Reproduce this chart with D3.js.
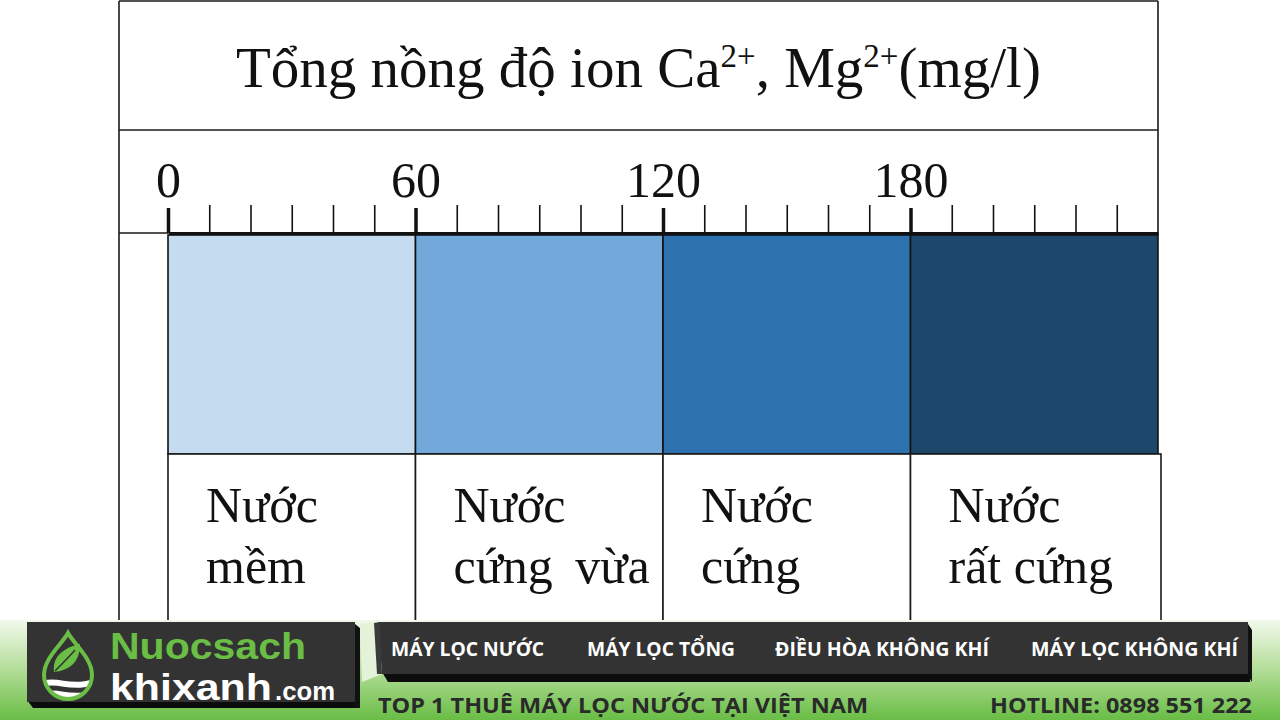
<!DOCTYPE html>
<html><head><meta charset="utf-8">
<script src="https://cdn.jsdelivr.net/npm/d3@7/dist/d3.min.js"></script>
<style>html,body{margin:0;padding:0;background:#fff;}svg{display:block;}</style>
</head><body>
<script>
// ---- data ----
const categoryLine1 = ["Nước", "Nước", "Nước", "Nước"];
const categoryLine2 = ["mềm", "cứng vừa", "cứng", "rất cứng"];
const rangeStart = [0, 60, 120, 180];
const rangeEnd = [60, 120, 180, 240];
const majorTicks = [0, 60, 120, 180];
const minorTicks = [10, 20, 30, 40, 50, 70, 80, 90, 100, 110, 130, 140, 150, 160, 170, 190, 200, 210, 220, 230];
const barColors = ["#c5dbf0", "#72a8da", "#2e71af", "#1e476c"];
const menuItems = ["MÁY LỌC NƯỚC", "MÁY LỌC TỔNG", "ĐIỀU HÒA KHÔNG KHÍ", "MÁY LỌC KHÔNG KHÍ"];

const W = 1280, H = 720;
const svg = d3.select("body").append("svg").attr("width", W).attr("height", H);
const serif = "'Liberation Serif','Times New Roman',serif";

const x = d3.scaleLinear().domain([0, 240]).range([168, 1158]);
const axisY = 233, barTop = 235, barBottom = 454, cellBottom = 622;
const frameL = 119, frameR = 1158, frameT = 1, titleB = 130;

// frame
const g = svg.append("g").attr("stroke", "#1a1a1a").attr("fill", "none");
g.append("line").attr("x1", frameL).attr("x2", frameL).attr("y1", frameT).attr("y2", cellBottom).attr("stroke-width", 1.6);
g.append("line").attr("x1", frameL).attr("x2", frameR).attr("y1", frameT).attr("y2", frameT).attr("stroke-width", 1.6);
g.append("line").attr("x1", frameR).attr("x2", frameR).attr("y1", frameT).attr("y2", barTop).attr("stroke-width", 1.6);
g.append("line").attr("x1", frameL).attr("x2", frameR).attr("y1", titleB).attr("y2", titleB).attr("stroke-width", 1.6);
g.append("line").attr("x1", frameL).attr("x2", x(0)).attr("y1", axisY).attr("y2", axisY).attr("stroke-width", 1.5);

// title
const title = svg.append("text").attr("x", (frameL + frameR) / 2).attr("y", 87)
  .attr("text-anchor", "middle").attr("font-family", serif).attr("font-size", 57).attr("fill", "#111");
title.append("tspan").text("Tổng nồng độ ion Ca");
title.append("tspan").attr("font-size", 33).attr("dy", -20).text("2+");
title.append("tspan").attr("dy", 20).text(", Mg");
title.append("tspan").attr("font-size", 33).attr("dy", -20).text("2+");
title.append("tspan").attr("dy", 20).text("(mg/l)");

// bars
svg.append("g").selectAll("rect").data(rangeStart).join("rect")
  .attr("x", (d) => x(d))
  .attr("width", (d, i) => x(rangeEnd[i]) - x(d))
  .attr("y", barTop).attr("height", barBottom - barTop)
  .attr("fill", (d, i) => barColors[i])
  .attr("stroke", "#111").attr("stroke-width", 1.6);

// label cells
const cells = svg.append("g").selectAll("g").data(rangeStart).join("g");
cells.append("rect")
  .attr("x", (d) => x(d))
  .attr("width", (d, i) => x(rangeEnd[i]) - x(d) + (i === 3 ? 3 : 0))
  .attr("y", barBottom).attr("height", cellBottom - barBottom)
  .attr("fill", "#fff").attr("stroke", "#1a1a1a").attr("stroke-width", 1.6);
cells.append("text").attr("x", (d) => x(d) + 38).attr("y", 522)
  .attr("font-family", serif).attr("font-size", 50).attr("fill", "#111")
  .text((d, i) => categoryLine1[i]);
cells.append("text").attr("x", (d) => x(d) + 38).attr("y", 583)
  .attr("font-family", serif).attr("font-size", 50).attr("fill", "#111")
  .attr("word-spacing", (d, i) => i === 1 ? 10 : 0)
  .text((d, i) => categoryLine2[i]);

// axes
const minorAxis = d3.axisTop(x).tickValues(minorTicks).tickSize(28).tickSizeOuter(0).tickFormat("");
const gMinor = svg.append("g").attr("transform", `translate(0,${axisY})`).call(minorAxis);
gMinor.select(".domain").remove();
gMinor.selectAll(".tick line").attr("stroke", "#111").attr("stroke-width", 1.6);

const majorAxis = d3.axisTop(x).tickValues(majorTicks).tickSize(25).tickPadding(11).tickSizeOuter(0);
const gMajor = svg.append("g").attr("transform", `translate(0,${axisY})`).call(majorAxis);
gMajor.select(".domain").attr("stroke", "#111").attr("stroke-width", 3.2);
gMajor.selectAll(".tick line").attr("stroke", "#111").attr("stroke-width", 3.5);
gMajor.selectAll(".tick text").attr("font-family", serif).attr("font-size", 50).attr("fill", "#111");

// ---- bottom banner ----
const defs = svg.append("defs");
const grad = defs.append("linearGradient").attr("id", "bg").attr("x1", 0).attr("x2", 0).attr("y1", 0).attr("y2", 1);
grad.append("stop").attr("offset", 0).attr("stop-color", "#f2f9ec");
grad.append("stop").attr("offset", 0.45).attr("stop-color", "#b9e0a0");
grad.append("stop").attr("offset", 1).attr("stop-color", "#69bd45");
svg.append("rect").attr("x", 0).attr("y", 620).attr("width", W).attr("height", 100).attr("fill", "url(#bg)");

// logo box
svg.append("path").attr("d", "M27,700 L355,700 L355,708 L33,708 Z").attr("fill", "#0c0c0c");
svg.append("path").attr("d", "M355,624 L360,628 L360,708 L355,708 Z").attr("fill", "#111");
svg.append("rect").attr("x", 27).attr("y", 622).attr("width", 328).attr("height", 80).attr("fill", "#333333");

// drop icon
const dropD = "M68,633 C62,644 44,658 44,675 A24,24 0 0 0 92,675 C92,658 74,644 68,633 Z";
defs.append("clipPath").attr("id", "dropclip").append("path").attr("d", dropD);
const icon = svg.append("g");
icon.append("path").attr("d", dropD).attr("fill", "#333");
const ic = icon.append("g").attr("clip-path", "url(#dropclip)");
ic.append("path").attr("d", "M40,680 C55,672 72,686 96,676 L96,704 L40,704 Z").attr("fill", "#fff");
ic.append("path").attr("d", "M40,677 C55,669 72,683 96,673 L96,678 C72,688 55,674 40,682 Z").attr("fill", "#333");
ic.append("path").attr("d", "M40,688 C55,680 72,694 96,684 L96,689 C72,699 55,685 40,693 Z").attr("fill", "#333");
icon.append("path").attr("d", "M54,672 C52,658 62,648 80,644 C80,660 72,670 54,672 Z").attr("fill", "#6abd45");
icon.append("path").attr("d", "M55,671 C62,664 68,658 75,650").attr("stroke", "#333").attr("stroke-width", 1.5).attr("fill", "none");
icon.append("path").attr("d", dropD).attr("fill", "none").attr("stroke", "#6abd45").attr("stroke-width", 4);

const sans = "'Liberation Sans','Open Sans',sans-serif";
svg.append("text").attr("x", 110).attr("y", 659).attr("font-family", sans).attr("font-weight", 700)
  .attr("font-size", 36).attr("fill", "#6abd45").attr("textLength", 196).attr("lengthAdjust", "spacingAndGlyphs").text("Nuocsach");
svg.append("text").attr("x", 110).attr("y", 700).attr("font-family", sans).attr("font-weight", 700)
  .attr("font-size", 36).attr("fill", "#fff").attr("textLength", 162).attr("lengthAdjust", "spacingAndGlyphs").text("khixanh");
svg.append("text").attr("x", 275).attr("y", 700).attr("font-family", sans).attr("font-weight", 700)
  .attr("font-size", 26).attr("fill", "#fff").attr("textLength", 60).attr("lengthAdjust", "spacingAndGlyphs").text(".com");

// menu bar
svg.append("path").attr("d", "M382,672 L1250,672 L1250,682 L388,682 Z").attr("fill", "#0d0d0d");
svg.append("path").attr("d", "M1248,624 L1252,630 L1252,682 L1248,676 Z").attr("fill", "#111");
svg.append("path").attr("d", "M378,622 L1248,622 L1248,674 L382,674 Z").attr("fill", "#333333");
svg.append("path").attr("d", "M360,624 L378,622 L382,674 L362,682 Z").attr("fill", "#e3f2d8");
svg.append("path").attr("d", "M374,623 L380,622 L382,674 L377,674 Z").attr("fill", "#3b3b3b");

const menuX = [391, 587, 775, 1031];
const menuW = [153, 148, 214, 207];
svg.append("g").selectAll("text").data(menuItems).join("text")
  .attr("x", (d, i) => menuX[i]).attr("y", 656)
  .attr("font-family", "'Open Sans',sans-serif").attr("font-weight", 700).attr("font-size", 20).attr("fill", "#fff")
  .attr("textLength", (d, i) => menuW[i]).attr("lengthAdjust", "spacingAndGlyphs")
  .text((d) => d);

svg.append("text").attr("x", 378).attr("y", 713).attr("font-family", "'Open Sans',sans-serif").attr("font-weight", 700)
  .attr("font-size", 22).attr("fill", "#2a2a2a").attr("textLength", 490).attr("lengthAdjust", "spacingAndGlyphs")
  .text("TOP 1 THUÊ MÁY LỌC NƯỚC TẠI VIỆT NAM");
svg.append("text").attr("x", 990).attr("y", 713).attr("font-family", "'Open Sans',sans-serif").attr("font-weight", 700)
  .attr("font-size", 22).attr("fill", "#2a2a2a").attr("textLength", 262).attr("lengthAdjust", "spacingAndGlyphs")
  .text("HOTLINE: 0898 551 222");
</script>
</body></html>
